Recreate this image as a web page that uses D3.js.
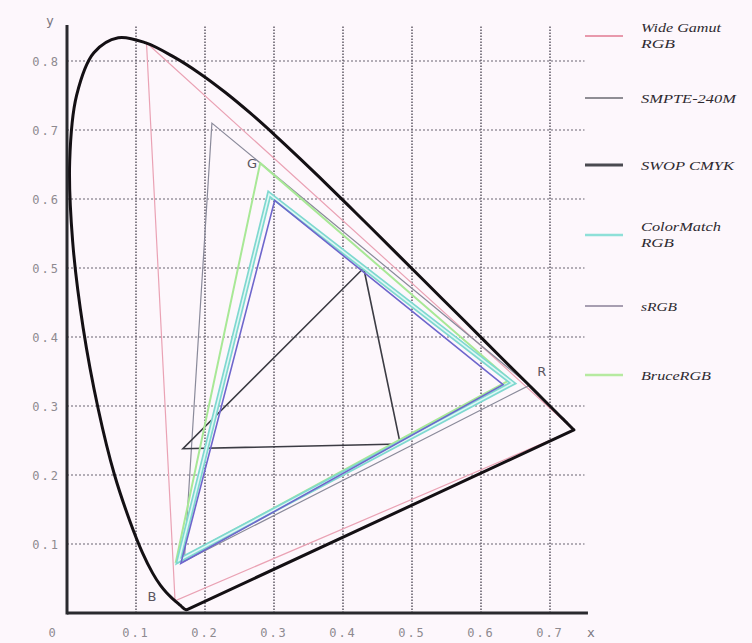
<!DOCTYPE html>
<html>
<head>
<meta charset="utf-8">
<script src="https://cdn.jsdelivr.net/npm/d3@7"></script>
<style>
  html, body { margin: 0; padding: 0; background: #fdf7fc; }
  svg { display: block; }
</style>
</head>
<body>
<svg id="chart" width="752" height="643"></svg>
<script>
// ---- Data ----
// CIE 1931 spectral locus (x, y), 380..700 nm
const locusX = [0.1741,0.1738,0.1733,0.1726,0.1714,0.1703,0.1689,0.1669,0.1644,0.1611,0.1566,0.1510,0.1440,0.1355,0.1241,0.1096,0.0913,0.0687,0.0454,0.0235,0.0082,0.0039,0.0139,0.0389,0.0743,0.1142,0.1547,0.1929,0.2296,0.2658,0.3016,0.3373,0.3731,0.4087,0.4441,0.4788,0.5125,0.5448,0.5752,0.6029,0.6270,0.6482,0.6658,0.6801,0.6915,0.7006,0.7079,0.7140,0.7190,0.7230,0.7260,0.7347];
const locusY = [0.0050,0.0049,0.0048,0.0048,0.0051,0.0058,0.0069,0.0086,0.0109,0.0138,0.0177,0.0227,0.0297,0.0399,0.0578,0.0868,0.1327,0.2007,0.2950,0.4127,0.5384,0.6548,0.7502,0.8120,0.8338,0.8262,0.8059,0.7816,0.7543,0.7243,0.6923,0.6589,0.6245,0.5896,0.5547,0.5202,0.4866,0.4544,0.4242,0.3965,0.3725,0.3514,0.3340,0.3197,0.3083,0.2993,0.2920,0.2859,0.2809,0.2770,0.2740,0.2653];

// Gamut vertices (x, y)
const wideGamutRGB = [[0.1152,0.8264],[0.7347,0.2653],[0.1566,0.0177]];
const smpte240M    = [[0.21,0.71],[0.67,0.33],[0.170,0.075]];
const swopCMYK     = [[0.430,0.500],[0.483,0.245],[0.168,0.238]];
const colorMatch   = [[0.293,0.607],[0.646,0.333],[0.162,0.076]];
const sRGB         = [[0.301,0.598],[0.632,0.331],[0.165,0.072]];
const bruceRGB     = [[0.280,0.652],[0.642,0.338],[0.158,0.075]];

const legendNames = [["Wide Gamut","RGB"],["SMPTE-240M"],["SWOP CMYK"],["ColorMatch","RGB"],["sRGB"],["BruceRGB"]];
const xTicks = [0.1,0.2,0.3,0.4,0.5,0.6,0.7];
const yTicks = [0.1,0.2,0.3,0.4,0.5,0.6,0.7,0.8];
const primaryLabels = [["G",0.268,0.645],["R",0.688,0.343],["B",0.123,0.018]];

// ---- Styles ----
const gamutStyles = [
  {data: wideGamutRGB, color: "#eaa2b4", width: 1.2},
  {data: smpte240M,    color: "#8a8a9a", width: 1.2},
  {data: swopCMYK,     color: "#3c3c44", width: 1.6},
  {data: bruceRGB,     color: "#a8e896", width: 2.0},
  {data: colorMatch,   color: "#7fd8d0", width: 5, inner: "#e0f8f5"},
  {data: sRGB,         color: "#6e66cc", width: 1.6}
];
const legendColors = ["#e07a92","#6a6a72","#4a4a50","#8ee0d8","#8a8098","#b6eaa0"];
const legendWidths = [1.5,1.5,3,2.5,1.5,2.5];
const legendY = [36, 98, 165, 235, 306, 375];
const legendTextLen = [[80,34],[95],[93],[80,33],[36],[70]];

// ---- Scales ----
const svg = d3.select("#chart");
const x = d3.scaleLinear().domain([0, 0.7]).range([67, 550]);
const y = d3.scaleLinear().domain([0, 0.8]).range([613, 61]);

// grid
const g = svg.append("g");
g.selectAll(".vg").data(xTicks).join("line")
  .attr("x1", d => x(d)).attr("x2", d => x(d))
  .attr("y1", y(0)).attr("y2", y(0.85))
  .attr("stroke", "#5e5864").attr("stroke-width", 1.5)
  .attr("stroke-dasharray", "1.5,1.5");
g.selectAll(".hg").data(yTicks).join("line")
  .attr("x1", x(0)).attr("x2", x(0.75))
  .attr("y1", d => y(d)).attr("y2", d => y(d))
  .attr("stroke", "#6a6470").attr("stroke-width", 1.2)
  .attr("stroke-dasharray", "2,2");

// gamuts
const closed = d3.line().x(d => x(d[0])).y(d => y(d[1])).curve(d3.curveLinearClosed);
gamutStyles.forEach(s => {
  svg.append("path").attr("d", closed(s.data))
    .attr("fill", "none").attr("stroke", s.color)
    .attr("stroke-width", s.width).attr("stroke-linejoin", "miter");
  if (s.inner) {
    svg.append("path").attr("d", closed(s.data))
      .attr("fill", "none").attr("stroke", s.inner)
      .attr("stroke-width", 1.6);
  }
});

// locus (smooth curve) + purple line
const locus = locusX.map((v, i) => [v, locusY[i]]);
const smooth = d3.line().x(d => x(d[0])).y(d => y(d[1])).curve(d3.curveCatmullRom.alpha(0.5));
svg.append("path").attr("d", smooth(locus))
  .attr("fill", "none").attr("stroke", "#141014")
  .attr("stroke-width", 3).attr("stroke-linejoin", "round");
svg.append("line")
  .attr("x1", x(locusX[0])).attr("y1", y(locusY[0]))
  .attr("x2", x(locusX[locusX.length - 1])).attr("y2", y(locusY[locusY.length - 1]))
  .attr("stroke", "#141014").attr("stroke-width", 3).attr("stroke-linecap", "round");

// axes
svg.append("line").attr("x1", x(0)).attr("x2", x(0))
  .attr("y1", y(0) + 1.5).attr("y2", y(0.852))
  .attr("stroke", "#2a2a2e").attr("stroke-width", 3);
svg.append("line").attr("x1", x(0)).attr("x2", x(0.755))
  .attr("y1", y(0)).attr("y2", y(0))
  .attr("stroke", "#2a2a2e").attr("stroke-width", 3);

// tick labels
const tickFont = "'DejaVu Sans Mono', monospace";
svg.selectAll(".xt").data(xTicks).join("text")
  .attr("x", d => x(d)).attr("y", 637)
  .attr("text-anchor", "middle")
  .attr("font-family", tickFont).attr("font-size", 12)
  .attr("letter-spacing", 2).attr("fill", "#8e8a90")
  .text(d => d3.format(".1f")(d));
svg.selectAll(".yt").data(yTicks).join("text")
  .attr("x", 60).attr("y", d => y(d) + 5)
  .attr("text-anchor", "end")
  .attr("font-family", tickFont).attr("font-size", 12)
  .attr("letter-spacing", 2).attr("fill", "#8e8a90")
  .text(d => d3.format(".1f")(d));
svg.append("text").attr("x", 52).attr("y", 637).attr("text-anchor", "middle")
  .attr("font-family", tickFont).attr("font-size", 12).attr("fill", "#8e8a90").text("0");
svg.append("text").attr("x", 50).attr("y", 25).attr("text-anchor", "middle")
  .attr("font-family", tickFont).attr("font-size", 13).attr("fill", "#7a7680").text("y");
svg.append("text").attr("x", 591).attr("y", 637).attr("text-anchor", "middle")
  .attr("font-family", tickFont).attr("font-size", 13).attr("fill", "#7a7680").text("x");

// primary labels
svg.selectAll(".pl").data(primaryLabels).join("text")
  .attr("x", d => x(d[1])).attr("y", d => y(d[2]))
  .attr("text-anchor", "middle")
  .attr("font-family", "'DejaVu Sans', sans-serif").attr("font-size", 13)
  .attr("fill", "#5a5660").text(d => d[0]);

// legend
legendNames.forEach((names, i) => {
  const ly = legendY[i];
  svg.append("line").attr("x1", 585).attr("x2", 623)
    .attr("y1", ly).attr("y2", ly)
    .attr("stroke", legendColors[i]).attr("stroke-width", legendWidths[i]);
  const n = names.length;
  names.forEach((t, j) => {
    const ty = n === 1 ? ly + 4.5 : ly - 4 + j * 16;
    svg.append("text").attr("x", 641).attr("y", ty)
      .attr("font-family", "'Liberation Serif', serif")
      .attr("font-style", "italic").attr("font-size", 13.5)
      .attr("fill", "#2e2a30")
      .attr("textLength", legendTextLen[i][j]).attr("lengthAdjust", "spacingAndGlyphs")
      .text(t);
  });
});
</script>
</body>
</html>
